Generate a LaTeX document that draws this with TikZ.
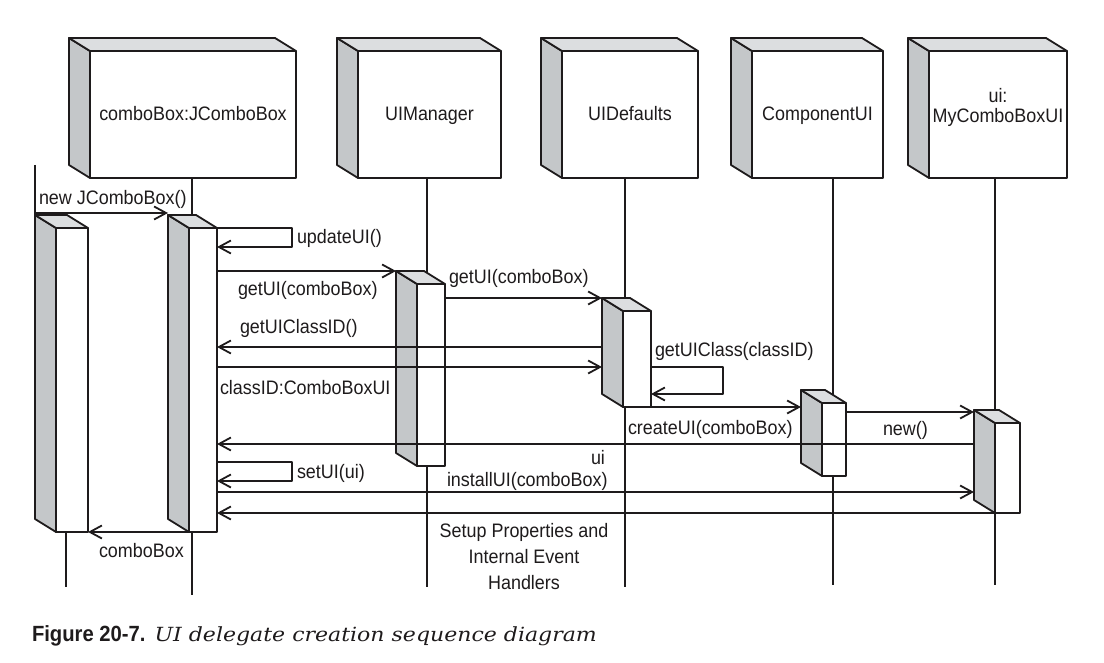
\documentclass[tikz,border=0pt]{standalone}
\usepackage{fontspec}
\newfontfamily\diagfont[FakeStretch=0.92]{Liberation Sans}
\newfontfamily\figfont[FakeStretch=0.92]{Liberation Sans}
\newfontfamily\capfont[FakeStretch=1.13]{DejaVu Serif}
\usetikzlibrary{arrows.meta}

\definecolor{ink}{RGB}{30,27,28}
\definecolor{sidegray}{RGB}{196,199,201}
\definecolor{topgray}{RGB}{220,222,224}

% grey side and top of a box, and the back edge (name-b) for the arrows
\newcommand{\boxfaces}[1]{%
  \filldraw[fill=sidegray] (#1.south west) -- ++(-21,-13) -- ([shift={(-21,-13)}]#1.north west) -- (#1.north west) -- cycle;
  \filldraw[fill=topgray] (#1.north west) -- ([shift={(-21,-13)}]#1.north west) -- ([shift={(-21,-13)}]#1.north east) -- (#1.north east) -- cycle;
  \coordinate (#1-b) at ([xshift=-21pt]#1.west);}

\begin{document}
\begin{tikzpicture}
[x=1pt,y=-1pt,color=ink,line width=1.8pt,line join=round,
 every node/.style={inner sep=0pt,outer sep=0pt,font=\diagfont\fontsize{19.5}{22}\selectfont},
 obj/.style={draw,fill=white,anchor=north west,minimum height=127pt,text height=13pt,text depth=0pt},
 act/.style={draw,fill=white,anchor=north west},
 msg/.style={-{Straight Barb[length=12pt,width=13pt]}},
 lbl/.style={anchor=base west}]
\path[use as bounding box,fill=white] (0,0) rectangle (1104,663);

\node[obj,minimum width=206pt] (objA) at (90,51)  {comboBox:JComboBox};
\node[obj,minimum width=143pt] (objB) at (358,51) {UIManager};
\node[obj,minimum width=136pt] (objC) at (562,51) {UIDefaults};
\node[obj,minimum width=131pt] (objD) at (752,51) {ComponentUI};
\node[obj,minimum width=138pt] (objE) at (929,51) {};
\node[align=center,anchor=north] (titleE) at ([yshift=-37pt]objE.north) {ui:\\[-2pt]MyComboBoxUI};
\boxfaces{objA} \boxfaces{objB} \boxfaces{objC} \boxfaces{objD} \boxfaces{objE}

\coordinate (caller) at (35,165);
\coordinate (lifeL) at (66,587);
\coordinate (lifeA) at (192,595);
\coordinate (lifeB) at (427,587);
\coordinate (lifeC) at (625,587);
\coordinate (lifeD) at (833,585);
\coordinate (lifeE) at (995,585);
\draw (objA.south -| lifeA) -- (lifeA);
\draw (objB.south -| lifeB) -- (lifeB);
\draw (objC.south -| lifeC) -- (lifeC);
\draw (objD.south -| lifeD) -- (lifeD);
\draw (objE.south -| lifeE) -- (lifeE);

\node[act,minimum width=32pt,minimum height=304pt] (actL) at (56,228)  {};
\node[act,minimum width=28pt,minimum height=304pt] (actA) at (189,228) {};
\node[act,minimum width=28pt,minimum height=182pt] (actB) at (417,284) {};
\node[act,minimum width=28pt,minimum height=96pt]  (actC) at (623,311) {};
\node[act,minimum width=24pt,minimum height=73pt]  (actD) at (822,403) {};
\node[act,minimum width=25pt,minimum height=90pt]  (actE) at (995,423) {};
\boxfaces{actL} \boxfaces{actA} \boxfaces{actB} \boxfaces{actC} \boxfaces{actD} \boxfaces{actE}
\draw (actL.south -| lifeL) -- (lifeL);
\draw (caller) -- ([shift={(-21,-13)}]actL.north west);

\draw[msg] (caller |- 0,213) -- (actA-b |- 0,213);
\draw[msg] (actA.north east) -- ++(75,0) -- ++(0,19) -- (actA.east |- 0,247);
\draw[msg] (actA.east |- 0,271) -- (actB-b |- 0,271);
\draw[msg] (actB.east |- 0,298) -- (actC-b |- 0,298);
\draw[msg] (actC-b |- 0,347) -- (actA.east |- 0,347);
\draw[msg] (actA.east |- 0,367) -- (actC-b |- 0,367);
\draw[msg] (actC.east |- 0,367) -- ++(72,0) -- ++(0,27) -- (actC.east |- 0,394);
\draw[msg] (actC.south west) -- (actD-b |- actC.south west);
\draw[msg] (actD.east |- 0,412) -- (actE-b |- 0,412);
\draw[msg] (actE-b |- 0,444) -- (actA.east |- 0,444);
\draw[msg] (actA.east |- 0,462) -- ++(75,0) -- ++(0,19) -- (actA.east |- 0,481);
\draw[msg] (actA.east |- 0,492) -- (actE-b |- 0,492);
\draw[msg] (actE.south west) -- (actA.east |- actE.south west);
\draw[msg] (actA.south west) -- (actL.east |- actA.south west);

\node[lbl] (lNew)   at (39,205)  {new JComboBox()};
\node[lbl] (lUpd)   at (297,244) {updateUI()};
\node[lbl] (lGetA)  at (238,296) {getUI(comboBox)};
\node[lbl] (lGetB)  at (449,284) {getUI(comboBox)};
\node[lbl] (lCid)   at (240,334) {getUIClassID()};
\node[lbl] (lCls)   at (220,394) {classID:ComboBoxUI};
\node[lbl] (lGuc)   at (655,356) {getUIClass(classID)};
\node[lbl] (lCre)   at (628,434) {createUI(comboBox)};
\node[lbl] (lNewUI) at (883,435) {new()};
\node[lbl] (lUi)    at (591,464) {ui};
\node[lbl] (lSet)   at (297,478) {setUI(ui)};
\node[lbl] (lInst)  at (447,486) {installUI(comboBox)};
\node[lbl] (lRet)   at (99,557)  {comboBox};
\node[align=center,anchor=north,font=\diagfont\fontsize{19.5}{26}\selectfont] (lSetup) at (524,523)
  {Setup Properties and\\Internal Event\\Handlers};

\node[lbl] (caption) at (32,641) {{\figfont\bfseries\fontsize{22}{26}\selectfont Figure 20-7.}\hspace{9pt}{\capfont\itshape\fontsize{19.5}{22}\selectfont UI delegate creation sequence diagram}};
\end{tikzpicture}
\end{document}
